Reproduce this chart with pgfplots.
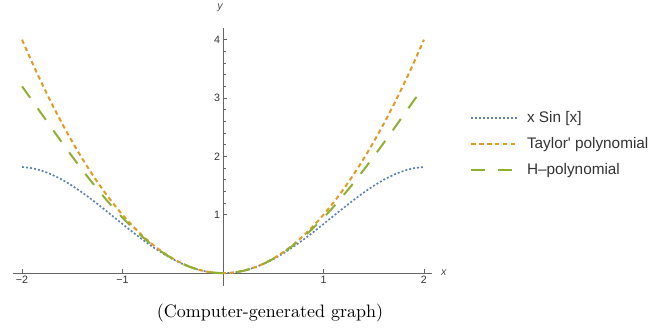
\documentclass[border=0pt]{standalone}
\usepackage{fontspec}
\usepackage{pgfplots}
\usepackage{pgfplotstable}
\pgfplotsset{compat=1.18}
\newfontfamily\arialfont{Liberation Sans}
\definecolor{mblue}{rgb}{0.368,0.507,0.710}
\definecolor{morange}{rgb}{0.881,0.611,0.142}
\definecolor{mgreen}{rgb}{0.560,0.692,0.195}

\pgfplotstableread{
x a t h
-2.0 1.818595 4.00 3.2
-1.9 1.797970 3.61 2.9584
-1.8 1.752926 3.24 2.71512
-1.7 1.685830 2.89 2.472395
-1.6 1.599318 2.56 2.23232
-1.5 1.496242 2.25 1.996875
-1.4 1.379630 1.96 1.76792
-1.3 1.252626 1.69 1.547195
-1.2 1.118447 1.44 1.33632
-1.1 0.980328 1.21 1.136795
-1.0 0.841471 1.00 0.95
-0.9 0.704994 0.81 0.777195
-0.8 0.573885 0.64 0.61952
-0.7 0.450953 0.49 0.477995
-0.6 0.338785 0.36 0.35352
-0.5 0.239713 0.25 0.246875
-0.4 0.155767 0.16 0.15872
-0.3 0.088656 0.09 0.089595
-0.2 0.039734 0.04 0.03992
-0.1 0.009983 0.01 0.009995
0.0 0 0 0
0.1 0.009983 0.01 0.009995
0.2 0.039734 0.04 0.03992
0.3 0.088656 0.09 0.089595
0.4 0.155767 0.16 0.15872
0.5 0.239713 0.25 0.246875
0.6 0.338785 0.36 0.35352
0.7 0.450953 0.49 0.477995
0.8 0.573885 0.64 0.61952
0.9 0.704994 0.81 0.777195
1.0 0.841471 1.00 0.95
1.1 0.980328 1.21 1.136795
1.2 1.118447 1.44 1.33632
1.3 1.252626 1.69 1.547195
1.4 1.379630 1.96 1.76792
1.5 1.496242 2.25 1.996875
1.6 1.599318 2.56 2.23232
1.7 1.685830 2.89 2.472395
1.8 1.752926 3.24 2.71512
1.9 1.797970 3.61 2.9584
2.0 1.818595 4.00 3.2
}\data

\begin{document}
\begin{tikzpicture}[x=0.6pt,y=0.6pt]
\useasboundingbox (0,0) rectangle (648,329);
\begin{axis}[
  at={(7.8pt,25.8pt)}, anchor=south west,
  scale only axis, width=251.4pt, height=154.8pt,
  axis lines=middle,
  axis line style={-, draw=black!60, line width=0.6pt},
  xmin=-2.09, xmax=2.08, ymin=-0.22, ymax=4.2,
  xtick={-2,-1,1,2}, xticklabels={−2,−1,1,2},
  ytick={1,2,3,4}, yticklabels={1,2,3,4},
  minor x tick num=4, minor y tick num=4,
  tick align=inside,
  major tick length=2.4pt, minor tick length=1.5pt,
  every tick/.style={draw=black!60, line width=0.5pt},
  tick label style={font=\arialfont\fontsize{6.4}{7}\selectfont, text=black!80, inner sep=1pt},
  x tick label style={yshift=-0.6pt},
  y tick label style={xshift=-0.6pt},
  xlabel={x}, ylabel={y},
  every axis x label/.style={at={(axis cs:2.08,0)}, anchor=west, xshift=2pt, font=\arialfont\itshape\fontsize{6.4}{7}\selectfont, text=black!70},
  every axis y label/.style={at={(axis cs:0,4.2)}, anchor=south, xshift=-1.8pt, yshift=6pt, font=\arialfont\itshape\fontsize{6.4}{7}\selectfont, text=black!70},
  legend style={at={(1.0788,0.550)}, anchor=west, draw=none, fill=none,
    font=\arialfont\fontsize{9.2}{11}\selectfont, text=black!80,
    nodes={inner sep=0pt, text height=7pt, text depth=2pt},
    row sep=6.6pt, column sep=4.8pt},
  legend cell align=left,
  legend image code/.code={\draw[#1] (0pt,0pt) -- (28pt,0pt);},
]
\addplot[mblue, line width=1.0pt, dash pattern=on 1.2pt off 1.2pt, smooth] table[x=x,y=a] {\data};
\addlegendentry{x Sin [x]}
\addplot[morange, line width=1.2pt, dash pattern=on 2.7pt off 2pt, smooth] table[x=x,y=t] {\data};
\addlegendentry{Taylor' polynomial}
\addplot[mgreen, line width=1.2pt, dash pattern=on 8.4pt off 7.8pt, smooth] table[x=x,y=h] {\data};
\addlegendentry{H{\textendash}polynomial}
\end{axis}
\node[anchor=base, font=\fontsize{10.8}{13}\selectfont] at (270,11) {(Computer-generated graph)};
\end{tikzpicture}
\end{document}
